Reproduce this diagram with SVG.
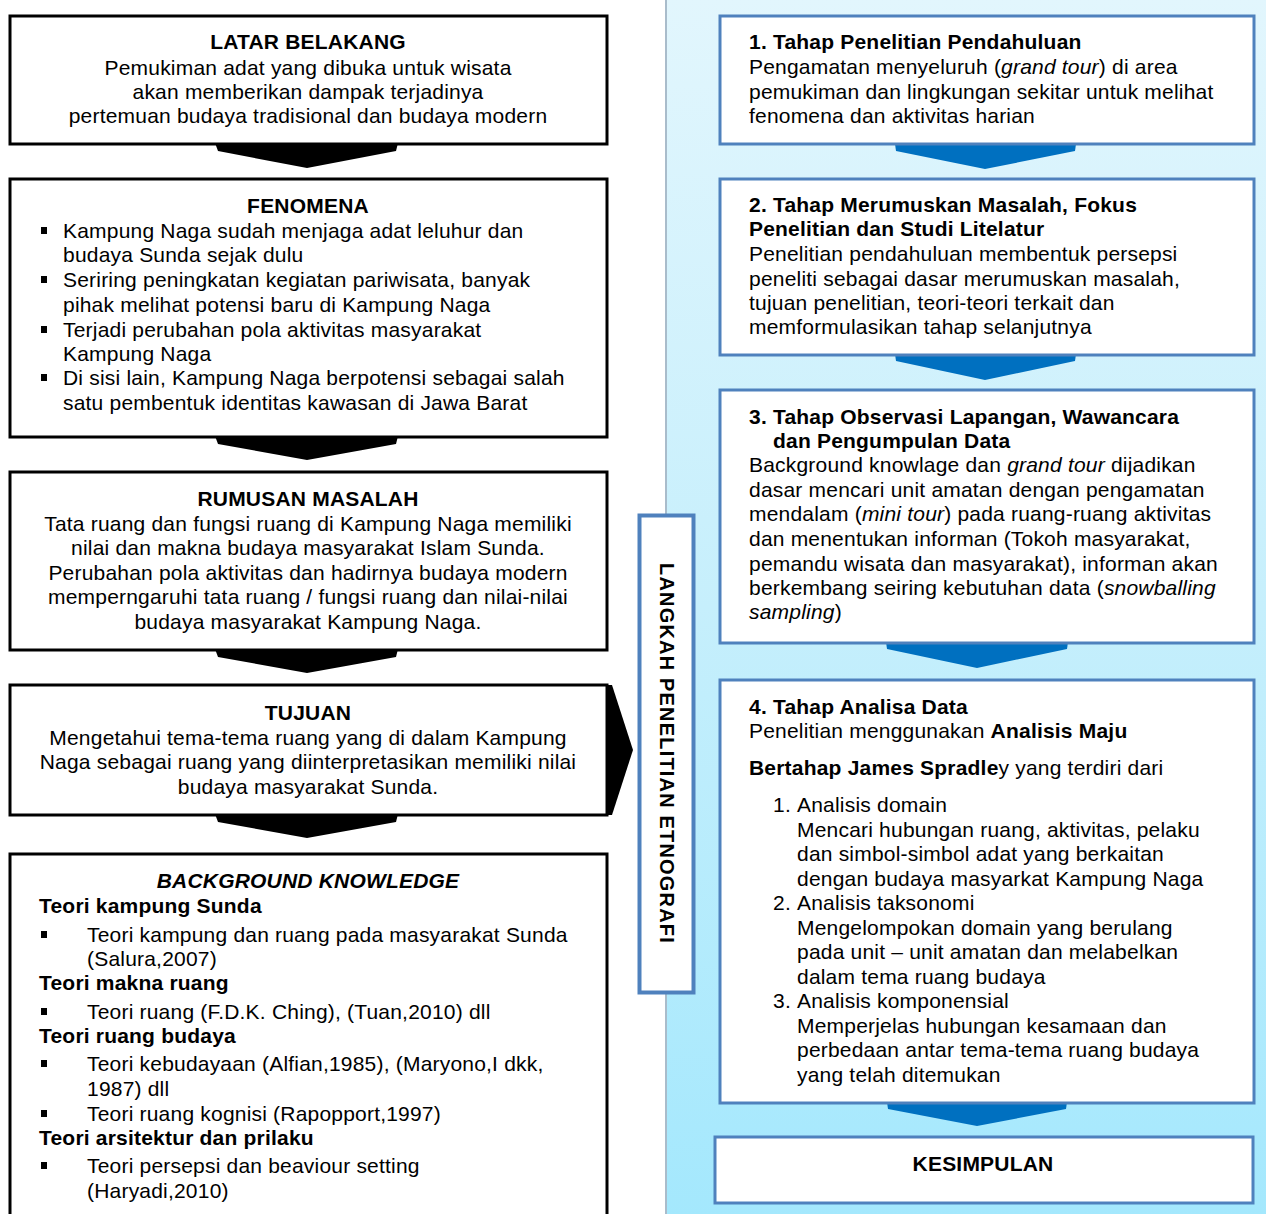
<svg xmlns="http://www.w3.org/2000/svg" width="1266" height="1214" viewBox="0 0 1266 1214">
<defs>
<linearGradient id="panelGrad" x1="0" y1="0" x2="0" y2="1">
<stop offset="0" stop-color="#e2f6fd"/>
<stop offset="0.5" stop-color="#c6effc"/>
<stop offset="1" stop-color="#a4e8fd"/>
</linearGradient>
<style>
text{font-family:"Liberation Sans",Arial,sans-serif;font-size:21px;letter-spacing:0.2px;fill:#000}
.b{font-weight:bold}
.i{font-style:italic}
.c{text-anchor:middle}
.lbox{fill:#fff;stroke:#000;stroke-width:3}
.rbox{fill:#fff;stroke:#4f81bd;stroke-width:3}
.kchev{fill:#000}
.bchev{fill:#0070c0}
.bul{fill:#000}
</style>
</defs>
<rect x="0" y="0" width="1266" height="1214" fill="#fff"/>
<rect x="666" y="-2" width="602" height="1218" fill="url(#panelGrad)" stroke="#a9bccb" stroke-width="2"/>

<g id="connectors">
<polygon class="kchev" points="215,143 398,143 396,151 307,168 218,151"/>
<polygon class="kchev" points="215,436 398,436 396,444 307,460 218,444"/>
<polygon class="kchev" points="215,649 398,649 396,657 307,673 218,657"/>
<polygon class="kchev" points="215,814 398,814 396,822 307,838 218,822"/>
<polygon class="kchev" points="604,685 612,685 633,750 612,815 604,815"/>
<polygon class="bchev" points="895,144 1076,144 1075,151 985,169 896,151"/>
<polygon class="bchev" points="895,354 1076,354 1075,361 985,380 896,361"/>
<polygon class="bchev" points="886,642 1068,642 1067,649 977,668 887,649"/>
<polygon class="bchev" points="887,1102 1067,1102 1066,1109 977,1126 888,1109"/>
</g>

<g id="latar">
<rect class="lbox" x="10" y="16" width="597" height="128"/>
<text class="b c" x="308" y="49">LATAR BELAKANG</text>
<text class="c" x="308" y="75">Pemukiman adat yang dibuka untuk wisata</text>
<text class="c" x="308" y="99">akan memberikan dampak terjadinya</text>
<text class="c" x="308" y="123">pertemuan budaya tradisional dan budaya modern</text>
</g>

<g id="fenomena">
<rect class="lbox" x="10" y="179" width="597" height="258"/>
<text class="b c" x="308" y="213">FENOMENA</text>
<rect class="bul" x="41" y="227" width="6" height="7"/>
<rect class="bul" x="41" y="276" width="6" height="7"/>
<rect class="bul" x="41" y="326" width="6" height="7"/>
<rect class="bul" x="41" y="374" width="6" height="7"/>
<text x="63" y="238">Kampung Naga sudah menjaga adat leluhur dan</text>
<text x="63" y="262">budaya Sunda sejak dulu</text>
<text x="63" y="287">Seriring peningkatan kegiatan pariwisata, banyak</text>
<text x="63" y="312">pihak melihat potensi baru di Kampung Naga</text>
<text x="63" y="337">Terjadi perubahan pola aktivitas masyarakat</text>
<text x="63" y="361">Kampung Naga</text>
<text x="63" y="385">Di sisi lain, Kampung Naga berpotensi sebagai salah</text>
<text x="63" y="410">satu pembentuk identitas kawasan di Jawa Barat</text>
</g>

<g id="rumusan">
<rect class="lbox" x="10" y="472" width="597" height="178"/>
<text class="b c" x="308" y="506">RUMUSAN MASALAH</text>
<text class="c" x="308" y="531">Tata ruang dan fungsi ruang di Kampung Naga memiliki</text>
<text class="c" x="308" y="555">nilai dan makna budaya masyarakat Islam Sunda.</text>
<text class="c" x="308" y="580">Perubahan pola aktivitas dan hadirnya budaya modern</text>
<text class="c" x="308" y="604">memperngaruhi tata ruang / fungsi ruang dan nilai-nilai</text>
<text class="c" x="308" y="629">budaya masyarakat Kampung Naga.</text>
</g>

<g id="tujuan">
<rect class="lbox" x="10" y="685" width="597" height="130"/>
<text class="b c" x="308" y="720">TUJUAN</text>
<text class="c" x="308" y="745">Mengetahui tema-tema ruang yang di dalam Kampung</text>
<text class="c" x="308" y="769">Naga sebagai ruang yang diinterpretasikan memiliki nilai</text>
<text class="c" x="308" y="794">budaya masyarakat Sunda.</text>
</g>

<g id="background">
<rect class="lbox" x="10" y="854" width="597" height="370"/>
<text class="b i c" x="308" y="888">BACKGROUND KNOWLEDGE</text>
<text class="b" x="39" y="913">Teori kampung Sunda</text>
<rect class="bul" x="41" y="931" width="6" height="7"/>
<text x="87" y="942">Teori kampung dan ruang pada masyarakat Sunda</text>
<text x="87" y="966">(Salura,2007)</text>
<text class="b" x="39" y="990">Teori makna ruang</text>
<rect class="bul" x="41" y="1008" width="6" height="7"/>
<text x="87" y="1019">Teori ruang (F.D.K. Ching), (Tuan,2010) dll</text>
<text class="b" x="39" y="1043">Teori ruang budaya</text>
<rect class="bul" x="41" y="1060" width="6" height="7"/>
<text x="87" y="1071">Teori kebudayaan (Alfian,1985), (Maryono,I dkk,</text>
<text x="87" y="1096">1987) dll</text>
<rect class="bul" x="41" y="1110" width="6" height="7"/>
<text x="87" y="1121">Teori ruang kognisi (Rapopport,1997)</text>
<text class="b" x="39" y="1145">Teori arsitektur dan prilaku</text>
<rect class="bul" x="41" y="1162" width="6" height="7"/>
<text x="87" y="1173">Teori persepsi dan beaviour setting</text>
<text x="87" y="1198">(Haryadi,2010)</text>
</g>

<g id="langkah">
<rect x="639.5" y="515.5" width="54" height="477" fill="#fff" stroke="#4f81bd" stroke-width="4"/>
<text class="b" transform="translate(660,563) rotate(90)" x="0" y="0" textLength="380" lengthAdjust="spacing" style="font-size:20px">LANGKAH  PENELITIAN  ETNOGRAFI</text>
</g>

<g id="tahap1">
<rect class="rbox" x="720" y="16" width="534" height="128"/>
<text class="b" x="749" y="49">1. Tahap Penelitian Pendahuluan</text>
<text x="749" y="74">Pengamatan menyeluruh (<tspan class="i">grand tour</tspan>) di area</text>
<text x="749" y="99">pemukiman dan lingkungan sekitar untuk melihat</text>
<text x="749" y="123">fenomena dan aktivitas harian</text>
</g>

<g id="tahap2">
<rect class="rbox" x="720" y="179" width="534" height="176"/>
<text class="b" x="749" y="212">2. Tahap Merumuskan Masalah, Fokus</text>
<text class="b" x="749" y="236">Penelitian dan Studi Litelatur</text>
<text x="749" y="261">Penelitian pendahuluan membentuk persepsi</text>
<text x="749" y="286">peneliti sebagai dasar merumuskan masalah,</text>
<text x="749" y="310">tujuan penelitian, teori-teori terkait dan</text>
<text x="749" y="334">memformulasikan tahap selanjutnya</text>
</g>

<g id="tahap3">
<rect class="rbox" x="720" y="390" width="534" height="253"/>
<text class="b" x="749" y="424">3. Tahap Observasi Lapangan, Wawancara</text>
<text class="b" x="773" y="448">dan Pengumpulan Data</text>
<text x="749" y="472">Background knowlage dan <tspan class="i">grand tour</tspan> dijadikan</text>
<text x="749" y="497">dasar mencari unit amatan dengan pengamatan</text>
<text x="749" y="521">mendalam (<tspan class="i">mini tour</tspan>) pada ruang-ruang aktivitas</text>
<text x="749" y="546">dan menentukan informan (Tokoh masyarakat,</text>
<text x="749" y="571">pemandu wisata dan masyarakat), informan akan</text>
<text x="749" y="595">berkembang seiring kebutuhan data (<tspan class="i">snowballing</tspan></text>
<text x="749" y="619"><tspan class="i">sampling</tspan>)</text>
</g>

<g id="tahap4">
<rect class="rbox" x="720" y="680" width="534" height="423"/>
<text class="b" x="749" y="714">4. Tahap Analisa Data</text>
<text x="749" y="738">Penelitian menggunakan <tspan class="b">Analisis Maju</tspan></text>
<text x="749" y="775"><tspan class="b">Bertahap James Spradle</tspan>y yang terdiri dari</text>
<text x="773" y="812">1.</text>
<text x="797" y="812">Analisis domain</text>
<text x="797" y="837">Mencari hubungan ruang, aktivitas, pelaku</text>
<text x="797" y="861">dan simbol-simbol adat yang berkaitan</text>
<text x="797" y="886">dengan budaya masyarkat Kampung Naga</text>
<text x="773" y="910">2.</text>
<text x="797" y="910">Analisis taksonomi</text>
<text x="797" y="935">Mengelompokan domain yang berulang</text>
<text x="797" y="959">pada unit – unit amatan dan melabelkan</text>
<text x="797" y="984">dalam tema ruang budaya</text>
<text x="773" y="1008">3.</text>
<text x="797" y="1008">Analisis komponensial</text>
<text x="797" y="1033">Memperjelas hubungan kesamaan dan</text>
<text x="797" y="1057">perbedaan antar tema-tema ruang budaya</text>
<text x="797" y="1082">yang telah ditemukan</text>
</g>

<g id="kesimpulan">
<rect class="rbox" x="715" y="1137" width="538" height="66"/>
<text class="b c" x="983" y="1171">KESIMPULAN</text>
</g>
</svg>
